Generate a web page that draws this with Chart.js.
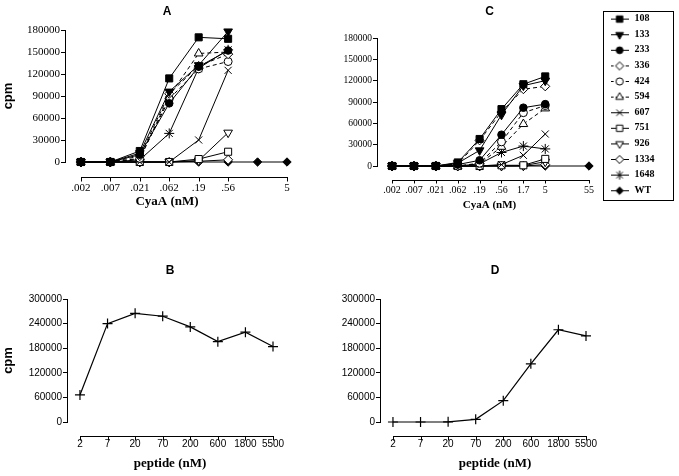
<!DOCTYPE html>
<html><head><meta charset="utf-8">
<script src="https://cdn.jsdelivr.net/npm/chart.js@4/dist/chart.umd.min.js"></script>
<style>
html,body{margin:0;padding:0;background:#fff;}
body{width:679px;height:476px;position:relative;overflow:hidden;}
canvas{position:absolute;}
#legendBox{position:absolute;left:603px;top:11px;width:69px;height:188px;border:1px solid #000;}
</style></head><body>
<canvas id="cA" style="left:0;top:0" width="334" height="215"></canvas>
<canvas id="cC" style="left:300px;top:0" width="379" height="215"></canvas>
<canvas id="cB" style="left:0;top:250px" width="340" height="226"></canvas>
<canvas id="cD" style="left:340px;top:250px" width="310" height="226"></canvas>
<div id="legendBox"></div>
<canvas id="cL" style="left:604px;top:8.4px" width="140" height="210"></canvas>
<script>
// ---------- DATA ----------
const seriesNames = ['108','133','233','336','424','594','607','751','926','1334','1648','WT'];

// Panel A (CyaA, nM)
const catsA = ['.002','.007','.021','.062','.19','.56','','5'];
const A_108  = [0, 0, 15000, 114000, 170000, 168000];
const A_133  = [0, 0, 12000,  96000, 132000, 178000];
const A_233  = [0, 0, 10000,  80000, 130000, 152000];
const A_336  = [0, 0,  8000,  93000, 131000, 147000];
const A_424  = [0, 0,  5000,  86000, 127000, 137000];
const A_594  = [0, 0,  4000,  90000, 148000, 150000];
const A_607  = [0, 0,     0,      0,  30000, 125000];
const A_751  = [0, 0,     0,      0,   4000,  14000];
const A_926  = [0, 0,     0,      0,   2000,  40000];
const A_1334 = [0, 0,     0,      0,   1000,   3000];
const A_1648 = [0, 0,  3000,  39000, 128000, 153000];
const A_WT   = [0, 0, 0, 0, 0, 0, 0, 0];

// Panel C (CyaA, nM)
const catsC = ['.002','.007','.021','.062','.19','.56','1.7','5','','55'];
const C_108  = [0, 0, 0, 5000, 38000, 80000, 115000, 126000];
const C_133  = [0, 0, 0, 4000, 22000, 72000, 113000, 120000];
const C_233  = [0, 0, 0, 2000,  8000, 44000,  82000,  87000];
const C_336  = [0, 0, 0, 3000, 36000, 76000, 108000, 112000];
const C_424  = [0, 0, 0,    0,  4000, 34000,  75000,  85000];
const C_594  = [0, 0, 0,    0,  3000, 27000,  59000,  81000];
const C_607  = [0, 0, 0,    0,     0,  2000,  15000,  45000];
const C_751  = [0, 0, 0,    0,     0,  1000,   1000,  10000];
const C_926  = [0, 0, 0,    0,     0,     0,    500,   6000];
const C_1334 = [0, 0, 0,    0,     0,     0,      0,   2000];
const C_1648 = [0, 0, 0,    0,  3000, 19000,  28000,  24000];
const C_WT   = [0, 0, 0, 0, 0, 0, 0, 0, null, 0];

// Panels B and D (peptide, nM)
const catsPep = ['2','7','20','70','200','600','1800','5500'];
const B_vals = [66000, 240000, 265000, 258000, 232000, 196000, 219000, 184000];
const D_vals = [0, 0, 500, 6500, 52000, 142000, 225000, 210000];

const ticksCpmA = [0, 30000, 60000, 90000, 120000, 150000, 180000];
const ticksCpmB = [0, 60000, 120000, 180000, 240000, 300000];

const seriesA = [A_108, A_133, A_233, A_336, A_424, A_594, A_607, A_751, A_926, A_1334, A_1648, A_WT];
const seriesC = [C_108, C_133, C_233, C_336, C_424, C_594, C_607, C_751, C_926, C_1334, C_1648, C_WT];

// ---------- STYLES ----------
const SERIF = '"Liberation Serif", "Times New Roman", serif';
const SANS = '"Liberation Sans", Arial, sans-serif';
const styles = {
  '108':  {ps:'rect',     fill:true,  r:5},
  '133':  {ps:'triangle', fill:true,  r:5, rot:180},
  '233':  {ps:'circle',   fill:true,  r:3.8},
  '336':  {ps:'rectRot',  fill:false, r:4.5, dash:true},
  '424':  {ps:'circle',   fill:false, r:4,   dash:true},
  '594':  {ps:'triangle', fill:false, r:5,   dash:true},
  '607':  {ps:'crossRot', fill:false, r:5},
  '751':  {ps:'rect',     fill:false, r:5},
  '926':  {ps:'triangle', fill:false, r:5, rot:180},
  '1334': {ps:'rectRot',  fill:false, r:4.5},
  '1648': {ps:'star',     fill:false, r:5},
  'WT':   {ps:'rectRot',  fill:true,  r:4.2}
};

function toPoints(vals){
  const pts = [];
  vals.forEach((v,i)=>{ if (v !== null && v !== undefined) pts.push({x:i, y:v}); });
  return pts;
}
function mkDs(name, vals){
  const s = styles[name];
  const bg = s.fill ? '#000' : '#fff';
  return {
    label: name, data: toPoints(vals),
    borderColor:'#000', borderWidth:1, borderDash: s.dash ? [4,3] : [],
    backgroundColor: bg, pointBackgroundColor: bg, pointBorderColor:'#000', pointBorderWidth:1,
    pointStyle: s.ps, pointRotation: s.rot || 0, pointRadius: s.r, pointHoverRadius: s.r,
    clip:false, tension:0, fill:false
  };
}
function mkPepDs(vals){
  return {
    label:'peptide', data: toPoints(vals), borderColor:'#000', borderWidth:1.2,
    backgroundColor:'#000', pointStyle:'cross', pointRadius:5, pointHoverRadius:5,
    pointBorderColor:'#000', pointBorderWidth:1.2, clip:false, tension:0, fill:false
  };
}

// detached x axis line drawn from the x scale's own pixel mapping
const detachedX = {
  id:'detachedX',
  afterDraw(chart, args, opts){
    const xs = chart.scales.x; const cats = opts.cats; if (!cats) return;
    const ctx = chart.ctx;
    const y0 = Math.round(chart.chartArea.bottom + opts.offset) + 0.5;
    ctx.save(); ctx.strokeStyle='#000'; ctx.lineWidth=1; ctx.setLineDash([]);
    ctx.beginPath();
    ctx.moveTo(Math.round(xs.getPixelForValue(0)), y0);
    ctx.lineTo(Math.round(xs.getPixelForValue(cats.length-1))+1, y0);
    cats.forEach((c,i)=>{
      if (c === '') return;
      const px = Math.round(xs.getPixelForValue(i)) + 0.5;
      ctx.moveTo(px, y0); ctx.lineTo(px, y0 + opts.tick);
    });
    ctx.stroke(); ctx.restore();
  }
};

function makeOptions(p){
  const scales = {
    x: {
      type:'linear', min:p.xmin, max:p.cats.length-1, position:'bottom',
      border:{display:false}, grid:{display:false, drawTicks:false},
      ticks:{color:'#000', font:{family:p.xFontFamily, size:p.xFontSize, lineHeight:1.2}, padding:p.xPad, maxRotation:0, autoSkip:false,
        callback:(v)=> (p.cats[v] !== undefined ? p.cats[v] : '')},
      afterBuildTicks:(s)=>{ s.ticks = p.cats.map((c,i)=>({value:i})); },
      afterFit:(s)=>{ s.height = p.xH; }
    },
    y: {
      type:'linear', min:0, max:p.ymax, position:'left',
      border:{display:true, color:'#000', width:1},
      grid:{drawOnChartArea:false, drawTicks:true, tickLength:4, color:'#000', lineWidth:1},
      ticks:{color:'#000', font:{family:p.yFontFamily, size:p.yFontSize}, padding:1, autoSkip:false,
        callback:(v)=>String(v)},
      afterBuildTicks:(s)=>{ s.ticks = p.yticks.map(v=>({value:v})); },
      title:{display: !!p.yTitle, text:p.yTitle || '', color:'#000', font:{family:SANS, size:13, weight:'bold', lineHeight:1.2}, padding:{top:p.yTitlePad||0, bottom:0}},
      afterFit:(s)=>{ s.width = p.yW; }
    },
    yR: {
      type:'linear', axis:'y', position:'right', display:true,
      grid:{display:false}, border:{display:false}, ticks:{display:false},
      afterFit:(s)=>{ s.width = p.rW; }
    }
  };
  return {
    responsive:false, animation:false, events:[],
    layout:{padding:0},
    scales,
    plugins:{
      legend:{display:false}, tooltip:{enabled:false},
      title:{display:true, text:p.title, color:'#000', font:{family:SANS, size:12, weight:'bold', lineHeight:1.2}, padding:{top:p.tPadTop, bottom:p.tPadBottom}},
      subtitle:{display:true, position:'bottom', text:p.xTitle, color:'#000', font:{family:SERIF, size:p.xTitleSize, weight:'bold', lineHeight:1.2}, padding:{top:0, bottom:p.sPadBottom}},
      detachedX:{cats:p.cats, offset:p.axOffset, tick:p.axTick}
    }
  };
}

// Panel A
new Chart(document.getElementById('cA'), {
  type:'line',
  data:{datasets: seriesNames.map((n,i)=>mkDs(n, seriesA[i]))},
  options: makeOptions({cats:catsA, xmin:-0.54, xFontFamily:SERIF, xFontSize:11, xPad:19.4, xH:32.2,
    ymax:180000, yticks:ticksCpmA, yFontFamily:SERIF, yFontSize:11, yTitle:'cpm', yTitlePad:1, yW:65, rW:47,
    title:'A', tPadTop:4.8, tPadBottom:10.8, xTitle:'CyaA (nM)', xTitleSize:13, sPadBottom:5.2,
    axOffset:15, axTick:4}),
  plugins:[detachedX]
});

// Panel C
new Chart(document.getElementById('cC'), {
  type:'line',
  data:{datasets: seriesNames.map((n,i)=>mkDs(n, seriesC[i]))},
  options: makeOptions({cats:catsC, xmin:-0.69, xFontFamily:SERIF, xFontSize:10, xPad:18, xH:32.4,
    ymax:180000, yticks:ticksCpmA, yFontFamily:SERIF, yFontSize:9.5, yTitle:'', yW:77, rW:90,
    title:'C', tPadTop:4.8, tPadBottom:18.8, xTitle:'CyaA (nM)', xTitleSize:11, sPadBottom:3.4,
    axOffset:14, axTick:3}),
  plugins:[detachedX]
});

// Panel B
new Chart(document.getElementById('cB'), {
  type:'line',
  data:{datasets:[mkPepDs(B_vals)]},
  options: makeOptions({cats:catsPep, xmin:-0.47, xFontFamily:SANS, xFontSize:10, xPad:16.5, xH:34.2,
    ymax:300000, yticks:ticksCpmB, yFontFamily:SANS, yFontSize:10, yTitle:'cpm', yTitlePad:0.2, yW:67, rW:67,
    title:'B', tPadTop:13.8, tPadBottom:20.8, xTitle:'peptide (nM)', xTitleSize:13, sPadBottom:4.2,
    axOffset:13.5, axTick:4}),
  plugins:[detachedX]
});

// Panel D
new Chart(document.getElementById('cD'), {
  type:'line',
  data:{datasets:[mkPepDs(D_vals)]},
  options: makeOptions({cats:catsPep, xmin:-0.47, xFontFamily:SANS, xFontSize:10, xPad:16.5, xH:34.2,
    ymax:300000, yticks:ticksCpmB, yFontFamily:SANS, yFontSize:10, yTitle:'', yW:40, rW:64,
    title:'D', tPadTop:13.8, tPadBottom:20.8, xTitle:'peptide (nM)', xTitleSize:13, sPadBottom:4.2,
    axOffset:13.5, axTick:4}),
  plugins:[detachedX]
});

// ---------- Legend (Chart.js legend with line+marker icons) ----------
function drawMarkerFallback(g, s, x, y, r){
  g.beginPath();
  if (s.ps === 'rect'){ const h = r*Math.SQRT1_2; g.rect(x-h, y-h, 2*h, 2*h); g.fill(); g.stroke(); }
  else if (s.ps === 'circle'){ g.arc(x, y, r, 0, Math.PI*2); g.fill(); g.stroke(); }
  else if (s.ps === 'rectRot'){ g.moveTo(x, y-r); g.lineTo(x+r, y); g.lineTo(x, y+r); g.lineTo(x-r, y); g.closePath(); g.fill(); g.stroke(); }
  else if (s.ps === 'triangle'){ const d = (s.rot===180)?-1:1; g.moveTo(x, y-d*r); g.lineTo(x+r*0.87, y+d*r*0.5); g.lineTo(x-r*0.87, y+d*r*0.5); g.closePath(); g.fill(); g.stroke(); }
  else if (s.ps === 'crossRot'){ const h=r*0.7; g.moveTo(x-h,y-h); g.lineTo(x+h,y+h); g.moveTo(x+h,y-h); g.lineTo(x-h,y+h); g.stroke(); }
  else if (s.ps === 'star'){ const h=r*0.7; g.moveTo(x-h,y-h); g.lineTo(x+h,y+h); g.moveTo(x+h,y-h); g.lineTo(x-h,y+h); g.moveTo(x,y-r); g.lineTo(x,y+r); g.moveTo(x-r,y); g.lineTo(x+r,y); g.stroke(); }
}
function makeIcon(name){
  const s = styles[name];
  const c = document.createElement('canvas'); c.width = 18; c.height = 12;
  const g = c.getContext('2d');
  g.strokeStyle = '#000'; g.lineWidth = 1;
  if (s.dash) g.setLineDash([3,2]);
  g.beginPath(); g.moveTo(0, 6.5); g.lineTo(18, 6.5); g.stroke();
  g.setLineDash([]);
  g.fillStyle = s.fill ? '#000' : '#fff';
  const r = s.r * 0.9;
  if (window.Chart && Chart.helpers && Chart.helpers.drawPoint){
    Chart.helpers.drawPoint(g, {pointStyle:s.ps, rotation:s.rot||0, radius:r, borderWidth:1}, 9, 6.5);
  } else {
    drawMarkerFallback(g, s, 9, 6.5, r);
  }
  return c;
}
const icons = {};
seriesNames.forEach(n => { icons[n] = makeIcon(n); });

new Chart(document.getElementById('cL'), {
  type:'line',
  data:{datasets: seriesNames.map(n => ({label:n, data:[]}))},
  options:{
    responsive:false, animation:false, events:[],
    layout:{padding:0},
    scales:{x:{display:false}, y:{display:false}},
    plugins:{
      tooltip:{enabled:false},
      legend:{display:true, position:'left', align:'start',
        labels:{usePointStyle:true, pointStyleWidth:20, boxHeight:10, padding:5.6, color:'#000',
          font:{family:SERIF, size:10, weight:'bold'},
          generateLabels:(chart)=> seriesNames.map((n,i)=>({text:n, pointStyle:icons[n], fillStyle:'#000', strokeStyle:'#000', lineWidth:0, hidden:false, datasetIndex:i, fontColor:'#000'}))
        }
      }
    }
  }
});
</script>
</body></html>
